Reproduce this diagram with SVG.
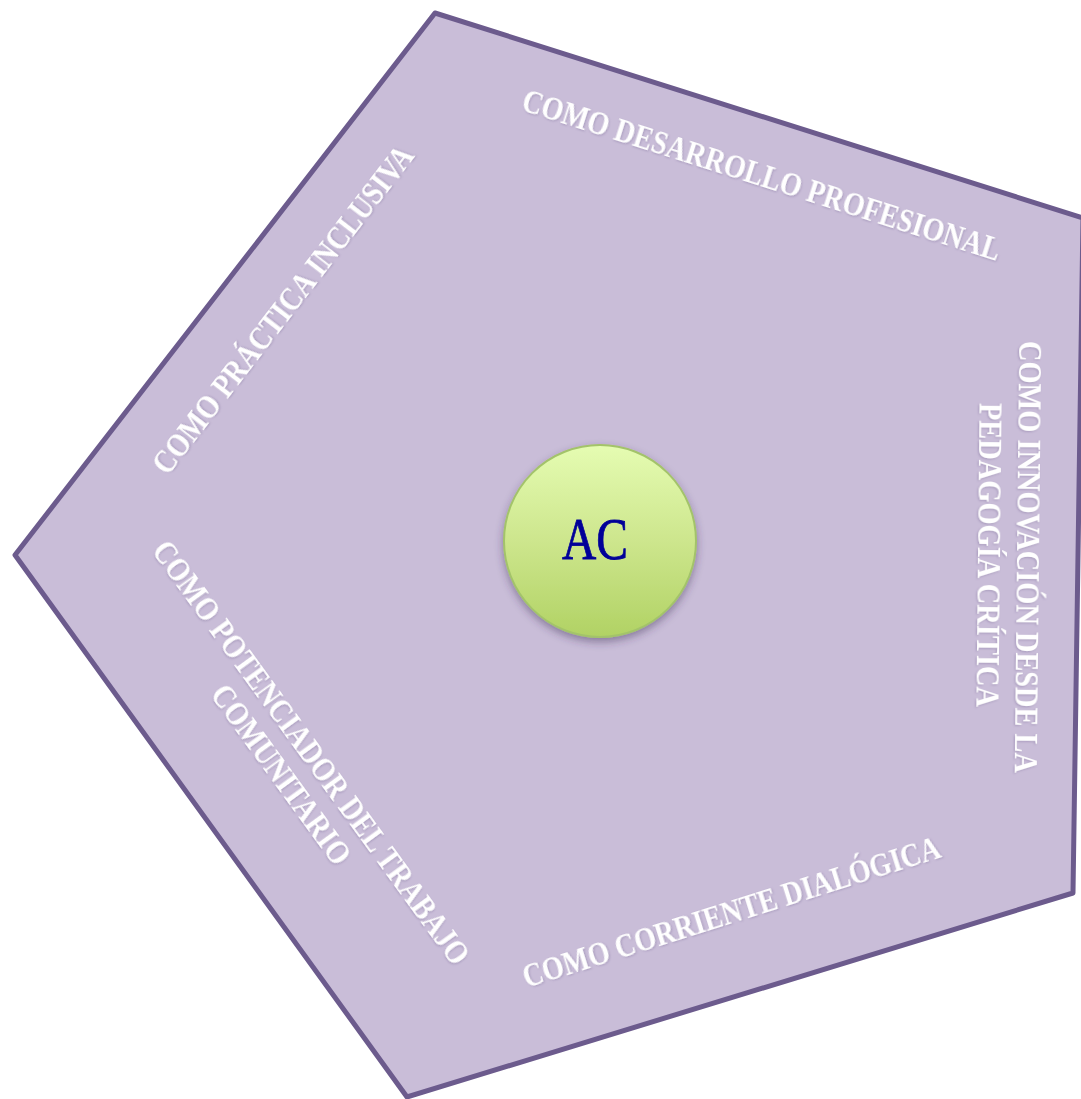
<svg xmlns="http://www.w3.org/2000/svg" width="1081" height="1099" viewBox="0 0 1081 1099">
<style>
.lbl{font-family:"Liberation Serif","DejaVu Serif",serif;font-weight:bold;font-size:33px;fill:#ffffff;text-anchor:middle;filter:url(#ts)}
.ac{font-family:"Liberation Serif","DejaVu Serif",serif;font-size:60px;fill:#000099;text-anchor:middle;stroke:#000099;stroke-width:0.8}
</style>
<defs>
<linearGradient id="g" x1="0" y1="0" x2="0" y2="1">
<stop offset="0" stop-color="#E5FCB2"/>
<stop offset="0.5" stop-color="#CDE68D"/>
<stop offset="1" stop-color="#B1D264"/>
</linearGradient>
<filter id="sh" x="-20%" y="-20%" width="140%" height="150%">
<feDropShadow dx="0" dy="4" stdDeviation="4" flood-color="#3a2a55" flood-opacity="0.45"/>
</filter>
<filter id="ts" x="-20%" y="-80%" width="140%" height="260%">
<feDropShadow dx="1" dy="1" stdDeviation="0.8" flood-color="#6b5a8c" flood-opacity="0.35"/>
</filter>
</defs>
<g id="pentagon">
<polygon points="435,13 1083,218 1073,893 407,1097 15,555" fill="#C9BDD8" stroke="#6C5B8D" stroke-width="5" stroke-linejoin="round"/>
</g>
<g id="connectors"></g>
<g id="label-desarrollo">
<text class="lbl" transform="translate(762,174) rotate(17.6)" dy="0.35em" textLength="500" lengthAdjust="spacingAndGlyphs">COMO DESARROLLO PROFESIONAL</text>
</g>
<g id="label-practica">
<text class="lbl" transform="translate(282,309) rotate(-52.3)" dy="0.35em" textLength="405" lengthAdjust="spacingAndGlyphs">COMO PRÁCTICA INCLUSIVA</text>
</g>
<g id="label-innovacion">
<text class="lbl" transform="translate(1029,557) rotate(90.6)" dy="0.35em" textLength="432" lengthAdjust="spacingAndGlyphs">COMO INNOVACIÓN DESDE LA</text>
<text class="lbl" transform="translate(990,555) rotate(90.6)" dy="0.35em" textLength="304" lengthAdjust="spacingAndGlyphs">PEDAGOGÍA CRÍTICA</text>
</g>
<g id="label-potenciador">
<text class="lbl" transform="translate(312,752) rotate(54)" dy="0.35em" textLength="515" lengthAdjust="spacingAndGlyphs">COMO POTENCIADOR DEL TRABAJO</text>
<text class="lbl" transform="translate(282,774) rotate(54)" dy="0.35em" textLength="214" lengthAdjust="spacingAndGlyphs">COMUNITARIO</text>
</g>
<g id="label-dialogica">
<text class="lbl" transform="translate(731,911) rotate(-17.5)" dy="0.35em" textLength="436" lengthAdjust="spacingAndGlyphs">COMO CORRIENTE DIALÓGICA</text>
</g>
<g id="node-ac">
<circle cx="600" cy="541" r="96" fill="url(#g)" stroke="#A3C36A" stroke-width="2" filter="url(#sh)"/>
<text class="ac" x="595" y="559" textLength="66" lengthAdjust="spacingAndGlyphs">AC</text>
</g>
</svg>
